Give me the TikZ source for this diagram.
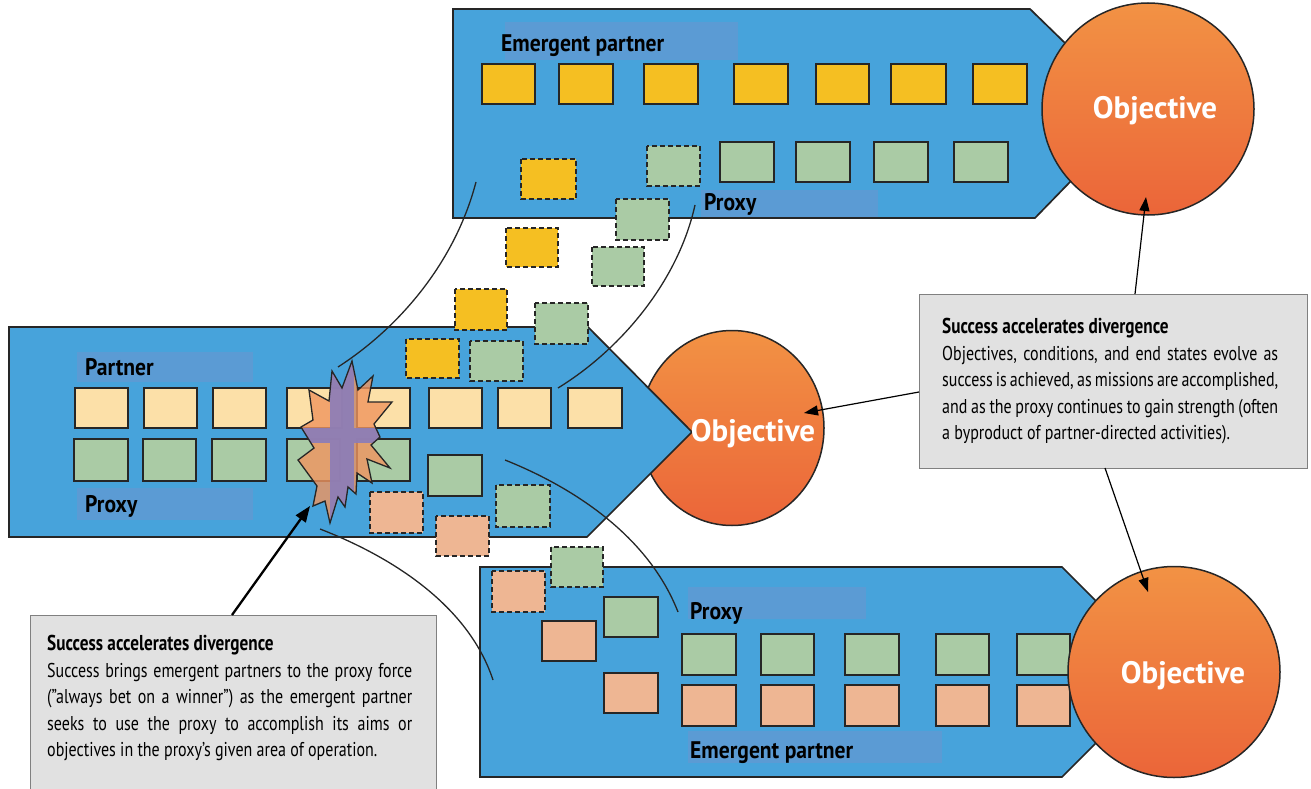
\documentclass[tikz,border=0pt]{standalone}
\usepackage{fontspec}
\setmainfont{PT Sans}
\newfontfamily\narrowfont{PT Sans}[FakeStretch=0.9]
\newfontfamily\notefont{PT Sans}[FakeStretch=0.8]
\newfontfamily\objfont{PT Sans}
\newcommand\noteheadfont{\bfseries\fontsize{21.5}{26.5}\selectfont}
\usetikzlibrary{shapes.geometric,arrows.meta}

\definecolor{arrowblue}{HTML}{47A3DB}
\definecolor{tagblue}{HTML}{5B9BD4}
\definecolor{goldsq}{HTML}{F5BF22}
\definecolor{sagesq}{HTML}{AACBA5}
\definecolor{creamsq}{HTML}{FCE0A8}
\definecolor{peachsq}{HTML}{EEB693}
\definecolor{objtop}{HTML}{F29244}
\definecolor{objbot}{HTML}{EB6539}
\definecolor{notefill}{HTML}{E1E1E1}
\definecolor{noteedge}{HTML}{808080}
\definecolor{burstorange}{HTML}{F0955F}
\definecolor{burstpurple}{HTML}{8C7DB8}

\begin{document}
\begin{tikzpicture}[x=1pt,y=-1pt,
  body/.style={fill=arrowblue,draw=black!85,line width=1.7pt,line join=miter},
  tag/.style={fill=tagblue},
  tagtext/.style={anchor=base west,inner sep=0pt,font=\narrowfont\bfseries\fontsize{24}{24}\selectfont},
  block/.style={draw=black!85,line width=1.5pt},
  ghost/.style={draw=black!85,line width=1.5pt,dash pattern=on 5pt off 3pt},
  goal/.style={ellipse,draw=black!85,line width=1.5pt,top color=objtop,bottom color=objbot,inner sep=0pt},
  goaltext/.style={anchor=base,inner sep=0pt,text=white,font=\objfont\bfseries\fontsize{31}{31}\selectfont},
  link/.style={draw=black!85,line width=1.3pt},
  pointer/.style={draw=black,line width=1.2pt,-{Triangle[length=14pt,width=10pt]}},
  note/.style={fill=notefill,draw=noteedge,line width=1pt},
  notetext/.style={anchor=north west,inner sep=0pt,align=left,font=\notefont\fontsize{20}{26.5}\selectfont}
]
\useasboundingbox (0,0) rectangle (1311,789);

% ---- middle objective sits under the middle arrow
\node[goal,minimum width=184pt,minimum height=195pt] (objMid) at (732,428) {};

% ---- arrow-shaped bodies
\path[body] (453,9) -- (1030,9) -- (1137,113) -- (1035,218) -- (453,218) -- cycle;
\path[body] (9,327) -- (588,327) -- (692,432) -- (587,537) -- (9,537) -- cycle;
\path[body] (480,567) -- (1062,567) -- (1167,672) -- (1062,777) -- (480,777) -- cycle;

% ---- label strips
\fill[tag] (505,22) rectangle (738,60);
\fill[tag] (701,190) rectangle (878,217);
\fill[tag] (77,352) rectangle (253,382);
\fill[tag] (77,488) rectangle (253,520);
\fill[tag] (688,587) rectangle (866,619);
\fill[tag] (688,731) rectangle (942,763);

\node[tagtext] (lblEmTop) at (501,52) {Emergent partner};
\node[tagtext] (lblPxTop) at (704,210) {Proxy};
\node[tagtext] (lblPartner) at (85,375) {Partner};
\node[tagtext] (lblPxMid) at (85,512) {Proxy};
\node[tagtext] (lblPxBot) at (690,619) {Proxy};
\node[tagtext] (lblEmBot) at (690,758) {Emergent partner};

% ---- solid blocks
\foreach \a/\b/\c/\d in {482/64/535/104, 559/64/613/104, 644/64/698/104, 734/64/788/104,
    816/64/869/104, 891/64/946/104, 973/64/1027/104}
  \draw[block,fill=goldsq] (\a,\b) rectangle (\c,\d);
\foreach \a/\b/\c/\d in {720/142/774/182, 796/142/850/182, 874/142/928/182, 954/142/1008/182,
    74/439/128/481, 143/439/196/481, 212/439/266/481, 287/439/340/481, 357/439/410/481,
    428/455/482/496, 604/597/658/637,
    682/634/736/675, 761/634/814/675, 845/634/899/675, 936/634/989/675, 1017/634/1070/675}
  \draw[block,fill=sagesq] (\a,\b) rectangle (\c,\d);
\foreach \a/\b/\c/\d in {75/388/128/428, 144/388/197/428, 213/388/266/428, 287/388/342/428,
    357/388/410/428, 429/388/482/428, 498/388/551/428, 568/388/622/428}
  \draw[block,fill=creamsq] (\a,\b) rectangle (\c,\d);
\foreach \a/\b/\c/\d in {542/621/596/661, 604/673/658/713,
    682/685/736/726, 761/685/814/726, 845/685/899/726, 936/685/989/726, 1017/685/1070/726}
  \draw[block,fill=peachsq] (\a,\b) rectangle (\c,\d);

% ---- blocks in transit (dashed)
\foreach \a/\b/\c/\d in {521/159/576/199, 506/228/558/267, 455/289/507/330, 406/339/459/378}
  \draw[ghost,fill=goldsq] (\a,\b) rectangle (\c,\d);
\foreach \a/\b/\c/\d in {647/146/700/186, 616/199/669/240, 592/247/644/286, 535/303/588/344,
    470/341/523/381, 496/485/550/527, 551/547/603/587}
  \draw[ghost,fill=sagesq] (\a,\b) rectangle (\c,\d);
\foreach \a/\b/\c/\d in {370/492/423/533, 436/516/489/556, 492/571/545/612}
  \draw[ghost,fill=peachsq] (\a,\b) rectangle (\c,\d);

% ---- friction burst
\def\burst{(352,361) -- (358,390) -- (373,376) -- (368,402) -- (392,402) -- (374,424)
  -- (380,437) -- (371,445) -- (390,468) -- (367,459) -- (372,483) -- (357,473)
  -- (356,494) -- (348,487) -- (345,507) -- (338,497) -- (330,523) -- (325,501)
  -- (313,506) -- (317,486) -- (298,460) -- (314,448) -- (301,427) -- (313,420)
  -- (309,390) -- (329,401) -- (332,371) -- (342,388) -- cycle}
\fill[burstorange,fill opacity=0.8] \burst;
\begin{scope}
  \clip \burst;
  \fill[burstpurple,fill opacity=0.92] (330,350) rectangle (354,530);
  \fill[burstpurple,fill opacity=0.92] (290,428) rectangle (330,443);
  \fill[burstpurple,fill opacity=0.92] (354,428) rectangle (400,443);
\end{scope}
\draw[black!85,line width=1.3pt,line join=miter] \burst;
\coordinate (burst) at (310,506);

% ---- curved links between the forces
\coordinate (c1s) at (338,367); \coordinate (c1e) at (476,182);
\coordinate (c2s) at (558,388); \coordinate (c2e) at (695,205);
\coordinate (c3s) at (505,460); \coordinate (c3e) at (678,612);
\coordinate (c4s) at (320,529); \coordinate (c4e) at (493,680);
\draw[link] (c1s) .. controls (400,327) and (455,262) .. (c1e);
\draw[link] (c2s) .. controls (620,350) and (678,282) .. (c2e);
\draw[link] (c3s) .. controls (580,490) and (650,540) .. (c3e);
\draw[link] (c4s) .. controls (400,560) and (470,610) .. (c4e);

% ---- objectives
\node[goal,minimum width=212pt,minimum height=212pt] (objTop) at (1148,109) {};
\node[goal,minimum width=212pt,minimum height=211pt] (objBot) at (1174,672) {};
\node[goaltext] (txtTop) at (1155,119) {Objective};
\node[goaltext] (txtMid) at (753,441) {Objective};
\node[goaltext] (txtBot) at (1183,683) {Objective};

% ---- notes
\draw[note] (919,294) rectangle (1307,468);
\node[notetext] (noteRtext) at (942,318) {%
  {\noteheadfont Success accelerates divergence}\\
  \makebox[336pt][s]{Objectives, conditions, and end states evolve as}\\
  \makebox[336pt][s]{success is achieved, as missions are accomplished,}\\
  \makebox[336pt][s]{and as the proxy continues to gain strength (often}\\
  a byproduct of partner-directed activities).};

\draw[note] (30,615) rectangle (436,800);
\node[notetext] (noteLtext) at (47,635) {%
  {\noteheadfont Success accelerates divergence}\\
  \makebox[365pt][s]{Success brings emergent partners to the proxy force}\\
  \makebox[365pt][s]{(”always bet on a winner”) as the emergent partner}\\
  \makebox[365pt][s]{seeks to use the proxy to accomplish its aims or}\\
  objectives in the proxy’s given area of operation.};

% ---- pointers from the notes
\coordinate (pL) at (232,615);
\coordinate (pR) at (919,392);  \coordinate (tMid) at (804,413);
\coordinate (pRt) at (1135,294); \coordinate (tTop) at (1146,197);
\coordinate (pRb) at (1105,468); \coordinate (tBot) at (1148,592);
\draw[black,line width=2.3pt,-{Triangle[length=16pt,width=12pt]}] (pL) -- (burst);
\draw[pointer] (pR) -- (tMid);
\draw[pointer] (pRt) -- (tTop);
\draw[pointer] (pRb) -- (tBot);
\end{tikzpicture}
\end{document}
